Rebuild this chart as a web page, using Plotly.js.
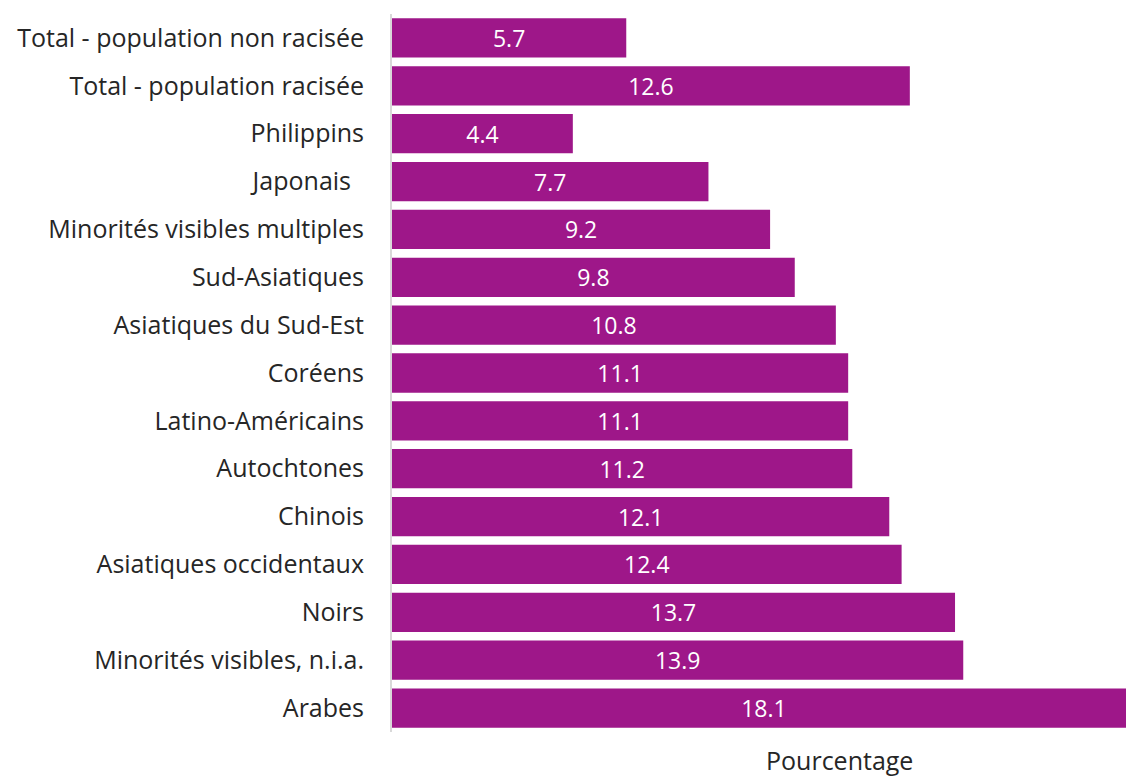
<!DOCTYPE html>
<html><head><meta charset="utf-8">
<script src="https://cdn.plot.ly/plotly-3.0.1.min.js"></script>
<style>html,body{margin:0;padding:0;background:#fff;}#chart{width:1126px;height:777px;}</style>
</head><body><div id="chart"></div>
<script>
const categories = ["Total - population non racisée","Total - population racisée","Philippins","Japonais\u00a0\u00a0","Minorités visibles multiples","Sud-Asiatiques","Asiatiques du Sud-Est","Coréens","Latino-Américains","Autochtones","Chinois","Asiatiques occidentaux","Noirs","Minorités visibles, n.i.a.","Arabes"];
const values = [5.7,12.6,4.4,7.7,9.2,9.8,10.8,11.1,11.1,11.2,12.1,12.4,13.7,13.9,18.1];
const xTitle = "Pourcentage";

const trace = {
  type:'bar', orientation:'h', x: values, y: categories,
  marker:{color:'#9E1789'},
  text: values.map(v=>v.toFixed(1)), textposition:'inside', insidetextanchor:'middle',
  textfont:{family:'Open Sans', size:23, color:'#ffffff', weight:500},
  constraintext:'none', cliponaxis:true, hoverinfo:'none'
};
const layout = {
  width:1126, height:777,
  margin:{l:392, r:0, t:14, b:45},
  paper_bgcolor:'#fff', plot_bgcolor:'#fff',
  bargap:0.18, showlegend:false,
  xaxis:{range:[0,17.86], showgrid:false, zeroline:false, showticklabels:false, showline:false, ticks:''},
  yaxis:{autorange:'reversed', showgrid:false, zeroline:false, showline:true, linecolor:'#d9d9d9', linewidth:2,
    ticks:'', ticklabelstandoff:21, tickfont:{family:'Open Sans', size:25, color:'#262626'}},
  annotations:[{text:xTitle, xref:'paper', yref:'paper', x:0.61, y:-0.012, xanchor:'center', yanchor:'top', showarrow:false,
    font:{family:'Open Sans', size:25, color:'#262626'}}]
};
Plotly.newPlot('chart',[trace],layout,{displayModeBar:false, staticPlot:true});
</script></body></html>
